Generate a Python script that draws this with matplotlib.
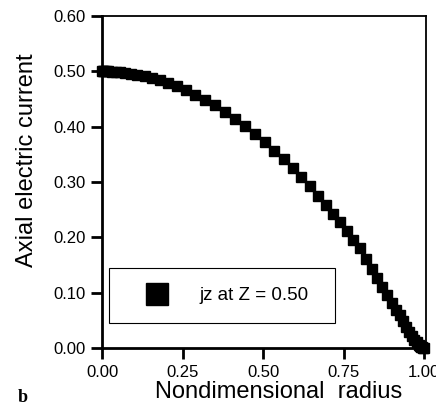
import matplotlib.pyplot as plt
import numpy as np

plt.rcParams['font.family'] = ['Liberation Sans', 'DejaVu Sans']

# nondimensional radius and axial current jz at Z = 0.50
radius = [0.000, 0.002, 0.006, 0.012, 0.020, 0.030, 0.042, 0.056, 0.072, 0.090,
          0.110, 0.132, 0.155, 0.180, 0.206, 0.233, 0.261, 0.290, 0.320, 0.351,
          0.382, 0.413, 0.444, 0.475, 0.505, 0.535, 0.564, 0.592, 0.619, 0.645,
          0.670, 0.694, 0.717, 0.739, 0.760, 0.780, 0.800, 0.819, 0.837, 0.854,
          0.870, 0.885, 0.899, 0.912, 0.924, 0.935, 0.945, 0.954, 0.962, 0.970,
          0.977, 0.983, 0.988, 0.992, 0.995, 0.998, 1.000]
jz = [0.5000, 0.5000, 0.5000, 0.4999, 0.4998, 0.4996, 0.4991, 0.4984, 0.4974, 0.4960,
      0.4940, 0.4913, 0.4880, 0.4838, 0.4788, 0.4729, 0.4659, 0.4580, 0.4488, 0.4384,
      0.4270, 0.4147, 0.4014, 0.3872, 0.3725, 0.3569, 0.3410, 0.3248, 0.3084, 0.2920,
      0.2756, 0.2592, 0.2430, 0.2269, 0.2112, 0.1958, 0.1800, 0.1610, 0.1430, 0.1260,
      0.1100, 0.0950, 0.0810, 0.0690, 0.0590, 0.0480, 0.0380, 0.0290, 0.0215, 0.0150,
      0.0100, 0.0060, 0.0040, 0.0020, 0.0010, 0.0000, 0.0000]

xticks = [0.0, 0.25, 0.5, 0.75, 1.0]
xticklabels = ['0.00', '0.25', '0.50', '0.75', '1.00']
yticks = [0.0, 0.1, 0.2, 0.3, 0.4, 0.5, 0.6]
yticklabels = ['0.00', '0.10', '0.20', '0.30', '0.40', '0.50', '0.60']

fig = plt.figure(figsize=(4.36, 4.15), dpi=100)
ax = fig.add_axes([0.234, 0.1614, 0.743, 0.80])

ax.plot(radius, jz, 's', color='black', markersize=7, clip_on=False,
        label='jz at Z = 0.50')

ax.set_xlim(0, 1.006)
ax.set_ylim(0, 0.6)
ax.set_xticks(xticks)
ax.set_xticklabels(xticklabels)
ax.set_yticks(yticks)
ax.set_yticklabels(yticklabels)
ax.tick_params(direction='out', length=8, width=2, labelsize=12, pad=4)

ax.spines['left'].set_linewidth(2)
ax.spines['bottom'].set_linewidth(2)
ax.spines['top'].set_linewidth(1.3)
ax.spines['right'].set_linewidth(1.3)

leg = ax.legend(loc='lower left', bbox_to_anchor=(0.0216, 0.075, 0.698, 0.157),
                mode='expand', borderaxespad=0, fontsize=13.5, markerscale=2.3,
                fancybox=False, edgecolor='black', framealpha=1, borderpad=1.0,
                handlelength=3.1, handletextpad=0.7)
leg.get_frame().set_linewidth(0.8)

fig.text(0.062, 0.614, 'Axial electric current', rotation=90,
         ha='center', va='center', fontsize=17)
fig.text(0.638, 0.055, 'Nondimensional  radius', ha='center', va='center',
         fontsize=17)
fig.text(0.052, 0.043, 'b', fontsize=13, fontweight='bold',
         family='Liberation Serif', ha='center', va='center')

fig.savefig('out.png', dpi=100)
